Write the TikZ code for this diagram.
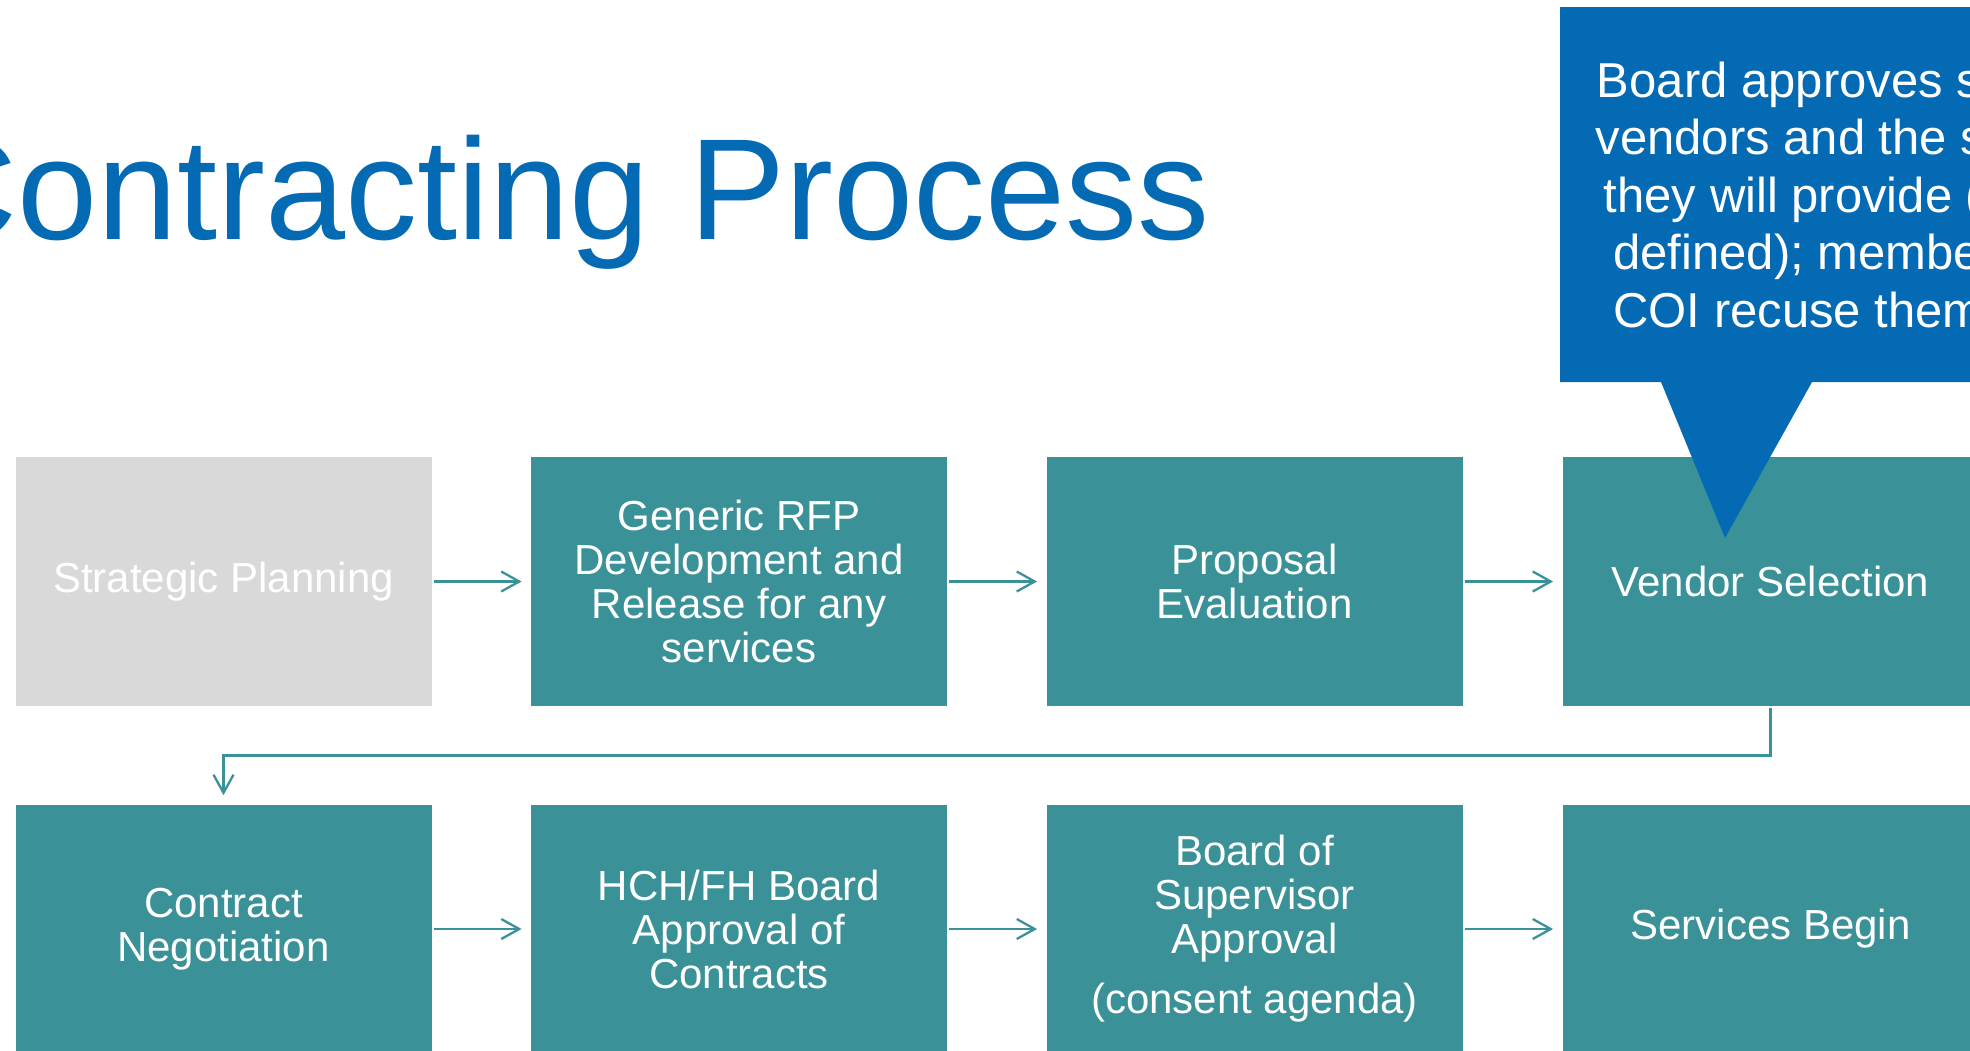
\documentclass[tikz,border=0pt]{standalone}
\usepackage{fontspec}
\setmainfont{Liberation Sans}
\usetikzlibrary{arrows.meta}
\definecolor{tealbox}{RGB}{58,146,152}
\definecolor{titleblue}{RGB}{5,106,180}
\definecolor{greybox}{RGB}{217,217,217}
\begin{document}
\begin{tikzpicture}[x=0.5pt,y=-0.5pt,
  stepbox/.style={rectangle, fill=tealbox, minimum width=208pt, minimum height=124.5pt,
    inner sep=0pt, text=white, align=center, font=\fontsize{21}{22}\selectfont},
  flow/.style={draw=tealbox, line width=1.15pt, -{Straight Barb[length=9pt,width=10pt]},
    shorten <=1pt, shorten >=4.5pt}]
\useasboundingbox (0,0) rectangle (1970,1050);
\clip (0,0) rectangle (1970,1050);
\fill[white] (0,0) rectangle (1970,1050);
\node[anchor=base west, text=titleblue, font=\fontsize{72}{80}\selectfont, inner sep=0pt] (title) at (-87,239) {Contracting Process};
% row 1
\node[stepbox, fill=greybox] (sp) at (223.5,581.5) {Strategic Planning};
\node[stepbox] (rfp) at (739,581.5) {Generic RFP\\Development and\\Release for any\\services};
\node[stepbox] (pe) at (1254.5,581.5) {Proposal\\Evaluation};
\node[stepbox] (vs) at (1770.5,581.5) {Vendor Selection};
% row 2
\node[stepbox] (cn) at (223.5,929) {Contract\\Negotiation};
\node[stepbox] (hch) at (739,929) {HCH/FH Board\\Approval of\\Contracts};
\node[stepbox] (bos) at (1254.5,929) {Board of\\Supervisor\\Approval\\[8pt](consent agenda)};
\node[stepbox] (sb) at (1770.5,929) {Services Begin};
% connectors
\draw[flow] (sp.east) -- (rfp.west);
\draw[flow] (rfp.east) -- (pe.west);
\draw[flow] (pe.east) -- (vs.west);
\draw[flow] (vs.south) -- ++(0,49) -| (cn.north);
\draw[flow] (cn.east) -- (hch.west);
\draw[flow] (hch.east) -- (bos.west);
\draw[flow] (bos.east) -- (sb.west);
% callout
\fill[titleblue] (1560,7) -- (2180,7) -- (2180,382) -- (1812,382) -- (1725,538) -- (1661,382) -- (1560,382) -- cycle;
\node[text=white, align=center, font=\fontsize{24.5}{28.75}\selectfont, anchor=base, inner sep=0pt] (note) at (1868,327)
  {Board approves selected\\vendors and the services\\they will provide (budget\\defined); members with\\COI recuse themselves};
\end{tikzpicture}
\end{document}
